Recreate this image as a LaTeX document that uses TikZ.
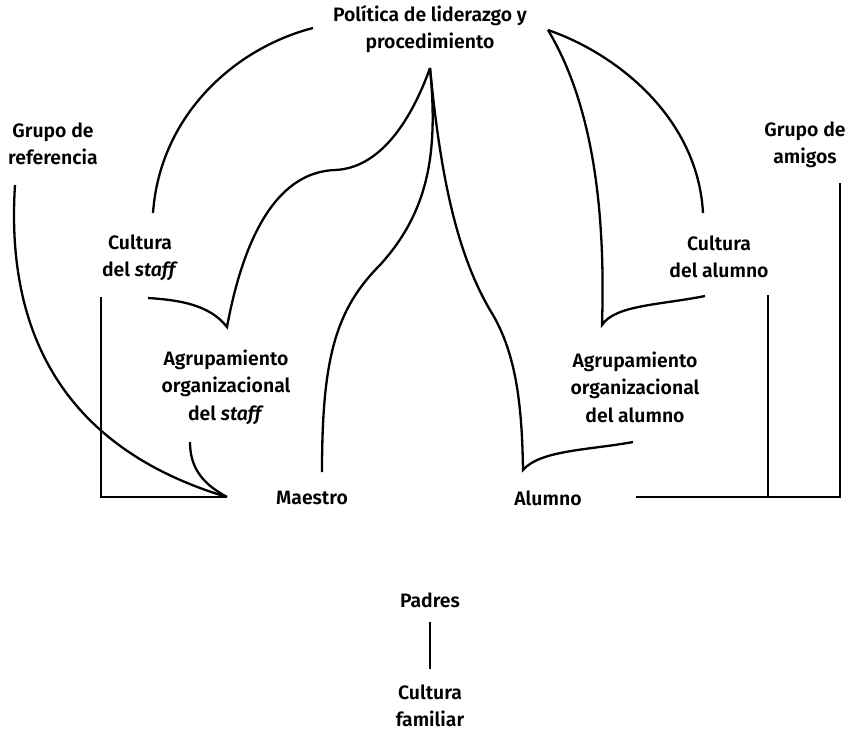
\documentclass[tikz,border=0pt]{standalone}
\usepackage{fontspec}
\setmainfont{Fira Sans}[UprightFont={* SemiBold},ItalicFont={* SemiBold Italic}]
\begin{document}
\begin{tikzpicture}[x=0.5pt, y=-0.5pt, line width=1.15pt,
    txt/.style={align=center, inner sep=0pt, font=\fontsize{9.7}{13.75}\selectfont}]
    \useasboundingbox (0,0) rectangle (853,736);

    % Labels
    \node[txt] (policy) at (430,29) {Política de liderazgo y\\procedimiento};
    \node[txt] (refgroup) at (53,144) {Grupo de\\referencia};
    \node[txt] (friends) at (805,145) {Grupo de\\amigos};
    \node[txt] (staffcult) at (140,258) {Cultura\\del \textit{staff}};
    \node[txt] (pupilcult) at (719,257) {Cultura\\del alumno};
    \node[txt] (staffgroup) at (226,387) {Agrupamiento\\organizacional\\del \textit{staff}};
    \node[txt] (pupilgroup) at (635,387) {Agrupamiento\\organizacional\\del alumno};
    \node[txt] (teacher) at (312,498) {Maestro};
    \node[txt] (pupil) at (548,498) {Alumno};
    \node[txt] (parents) at (430,600) {Padres};
    \node[txt] (family) at (430,706) {Cultura\\familiar};

    % End points of the curves
    \coordinate (polL) at (313,28);
    \coordinate (polR) at (548,30);
    \coordinate (apex) at (430,68);
    \coordinate (staffTop) at (153,213);
    \coordinate (staffLow) at (148,298);
    \coordinate (staffCusp) at (227,327);
    \coordinate (staffBend) at (335,170);
    \coordinate (teacherBend) at (380,265);
    \coordinate (teacherTop) at (322,472);
    \coordinate (pupilBend) at (490,310);
    \coordinate (pupilCusp) at (523,470);
    \coordinate (pupilGrpLow) at (633,442);
    \coordinate (alumTop) at (703,213);
    \coordinate (alumCusp) at (602,325);
    \coordinate (alumLow) at (705,296);
    \coordinate (refFoot) at (15,185);
    \coordinate (staffGrpFoot) at (190,442);
    \coordinate (teacherIn) at (227,497);
    \coordinate (boxCorner) at (101,297);
    \coordinate (boxBottom) at (101,497);
    \coordinate (pupilOut) at (636,497);
    \coordinate (alumFoot) at (768,295);
    \coordinate (alumJoin) at (768,497);
    \coordinate (friendsFoot) at (840,183);
    \coordinate (friendsJoin) at (840,497);
    \coordinate (parentsFoot) at (430,622);
    \coordinate (familyHead) at (430,669);

    % Policy towards the staff side
    \draw (polL) .. controls (235,48) and (160,115) .. (staffTop);
    \draw (staffLow) .. controls (180,300) and (210,305) .. (staffCusp)
          .. controls (245,230) and (280,172) .. (staffBend)
          .. controls (385,168) and (415,110) .. (apex);
    \draw (apex) .. controls (438,150) and (430,210) .. (teacherBend)
          .. controls (335,310) and (322,360) .. (teacherTop);

    % Policy towards the pupil side
    \draw (apex) .. controls (440,170) and (455,250) .. (pupilBend)
          .. controls (515,350) and (522,400) .. (pupilCusp)
          .. controls (540,450) and (590,450) .. (pupilGrpLow);
    \draw (polR) .. controls (620,55) and (698,120) .. (alumTop);
    \draw (polR) .. controls (590,100) and (606,200) .. (alumCusp)
          .. controls (615,305) and (660,305) .. (alumLow);

    % Reference group and staff grouping to the teacher
    \draw (refFoot) .. controls (5,340) and (70,450) .. (teacherIn);
    \draw (staffGrpFoot) .. controls (190,470) and (205,485) .. (teacherIn);
    \draw (boxCorner) -- (boxBottom) -- (teacherIn);

    % Pupil to pupil culture and friends
    \draw (pupilOut) -- (friendsJoin) -- (friendsFoot);
    \draw (alumFoot) -- (alumJoin);

    % Parents
    \draw (parentsFoot) -- (familyHead);
\end{tikzpicture}
\end{document}
